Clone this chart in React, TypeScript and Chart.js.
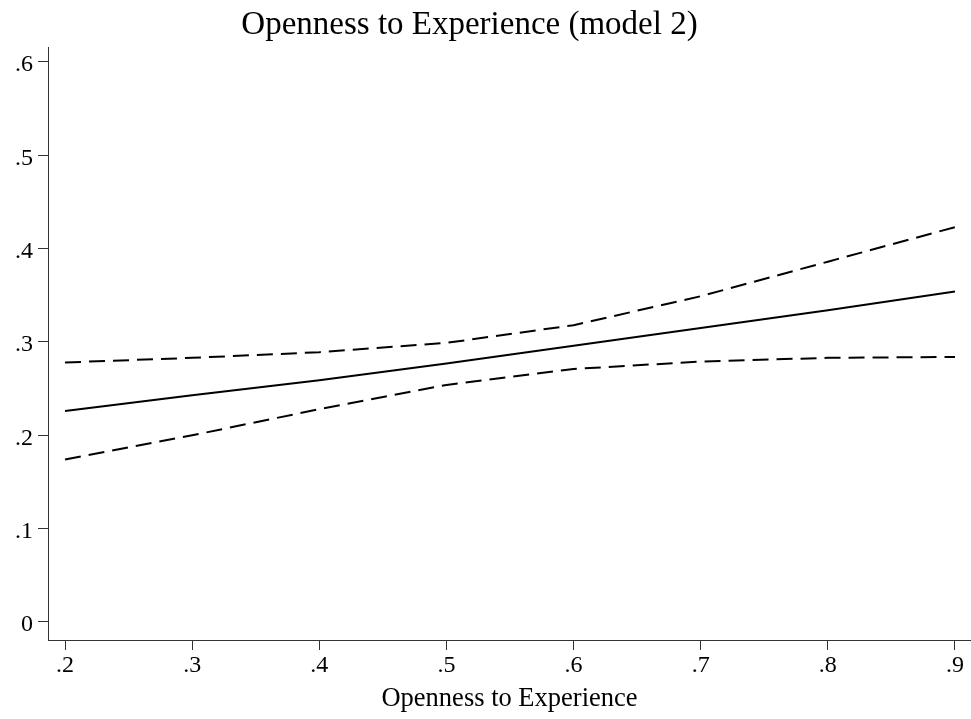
import React, { useEffect, useRef } from "react";
import { Chart, registerables } from "chart.js";

Chart.register(...registerables);

const titleText = "Openness to Experience (model 2)";
const xAxisTitle = "Openness to Experience";

const xValues = [0.2, 0.3, 0.4, 0.5, 0.6, 0.7, 0.8, 0.9];
const predicted = [0.226, 0.243, 0.259, 0.277, 0.296, 0.315, 0.334, 0.354];
const upperCI = [0.278, 0.283, 0.289, 0.299, 0.318, 0.349, 0.386, 0.423];
const lowerCI = [0.174, 0.2, 0.228, 0.254, 0.271, 0.279, 0.283, 0.284];

const xTicks = [0.2, 0.3, 0.4, 0.5, 0.6, 0.7, 0.8, 0.9];
const xTickLabels = [".2", ".3", ".4", ".5", ".6", ".7", ".8", ".9"];
const yTicks = [0, 0.1, 0.2, 0.3, 0.4, 0.5, 0.6];
const yTickLabels = ["0", ".1", ".2", ".3", ".4", ".5", ".6"];

const FONT = "'Liberation Serif', 'Times New Roman', serif";

function labelFor(values: number[], labels: string[], v: number) {
  const i = values.findIndex((t) => Math.abs(t - v) < 1e-6);
  return i >= 0 ? labels[i] : "";
}

const titlePlugin = {
  id: "plotTitle",
  afterDraw(chart: any) {
    const ctx = chart.ctx;
    ctx.save();
    ctx.fillStyle = "#000";
    ctx.font = `33px ${FONT}`;
    ctx.textAlign = "center";
    ctx.textBaseline = "alphabetic";
    ctx.fillText(titleText, 469.5, 34);
    ctx.restore();
  },
};

export default function App() {
  const ref = useRef<HTMLCanvasElement | null>(null);

  useEffect(() => {
    if (!ref.current) return;
    const pts = (ys: number[]) => xValues.map((x, i) => ({ x, y: ys[i] }));
    const chart = new Chart(ref.current, {
      type: "line",
      data: {
        datasets: [
          {
            label: "upper",
            data: pts(upperCI),
            borderColor: "#000",
            borderWidth: 2,
            borderDash: [16, 8],
            pointRadius: 0,
            tension: 0,
            fill: false,
          },
          {
            label: "predicted",
            data: pts(predicted),
            borderColor: "#000",
            borderWidth: 2,
            pointRadius: 0,
            tension: 0,
            fill: false,
          },
          {
            label: "lower",
            data: pts(lowerCI),
            borderColor: "#000",
            borderWidth: 2,
            borderDash: [16, 8],
            pointRadius: 0,
            tension: 0,
            fill: false,
          },
        ],
      },
      options: {
        responsive: false,
        animation: false,
        layout: { padding: { top: 47, left: 0, right: 0, bottom: 0 } },
        plugins: {
          legend: { display: false },
          tooltip: { enabled: false },
          title: { display: false },
        },
        scales: {
          x: {
            type: "linear",
            min: 0.1866,
            max: 0.9126,
            afterBuildTicks: (scale: any) => {
              scale.ticks = xTicks.map((v) => ({ value: v }));
            },
            afterFit: (scale: any) => {
              scale.height = 79;
            },
            ticks: {
              color: "#000",
              padding: 1,
              maxRotation: 0,
              autoSkip: false,
              font: { family: FONT, size: 24, lineHeight: 1.2 },
              callback: (v: any) => labelFor(xTicks, xTickLabels, Number(v)),
            },
            grid: {
              display: true,
              drawOnChartArea: false,
              drawTicks: true,
              tickLength: 10,
              tickColor: "#333",
              tickWidth: 1,
            },
            border: { display: true, color: "#333", width: 1 },
            title: {
              display: true,
              text: xAxisTitle,
              color: "#000",
              font: { family: FONT, size: 26.5, lineHeight: 1.2 },
              padding: { top: 0, bottom: 4 },
            },
          },
          y: {
            type: "linear",
            min: -0.0193,
            max: 0.616,
            afterBuildTicks: (scale: any) => {
              scale.ticks = yTicks.map((v) => ({ value: v }));
            },
            afterFit: (scale: any) => {
              scale.width = 48;
            },
            ticks: {
              color: "#000",
              padding: 5,
              labelOffset: 3,
              autoSkip: false,
              font: { family: FONT, size: 24, lineHeight: 1.2 },
              callback: (v: any) => labelFor(yTicks, yTickLabels, Number(v)),
            },
            grid: {
              display: true,
              drawOnChartArea: false,
              drawTicks: true,
              tickLength: 10,
              tickColor: "#333",
              tickWidth: 1,
            },
            border: { display: true, color: "#333", width: 1 },
          },
        },
      },
      plugins: [titlePlugin],
    });
    return () => chart.destroy();
  }, []);

  return (
    <div style={{ position: "absolute", left: 0, top: 0, width: 971, height: 719, background: "#fff" }}>
      <canvas ref={ref} width={971} height={719} style={{ display: "block" }} />
    </div>
  );
}
